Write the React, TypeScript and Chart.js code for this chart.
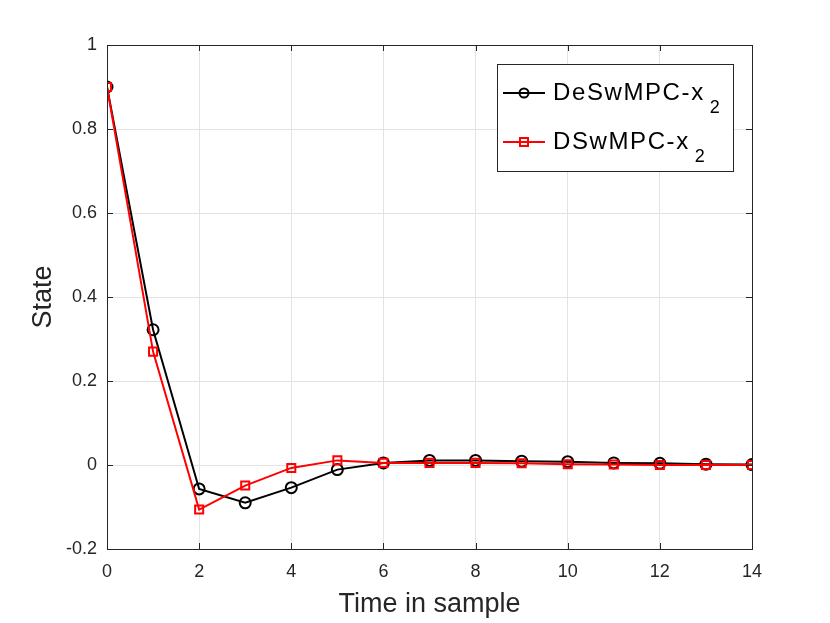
import { useEffect, useRef } from 'react';
import Chart from 'chart.js/auto';

// time steps and the two state trajectories (x2)
const steps = [0, 1, 2, 3, 4, 5, 6, 7, 8, 9, 10, 11, 12, 13, 14];
const deswmpc = [0.9, 0.322, -0.057, -0.09, -0.054, -0.011, 0.005, 0.011, 0.011, 0.009, 0.008, 0.005, 0.004, 0.002, 0.001];
const dswmpc = [0.9, 0.27, -0.106, -0.049, -0.007, 0.011, 0.005, 0.005, 0.005, 0.004, 0.002, 0.001, 0, 0, 0];
const seriesNames = ['DeSwMPC-x', 'DSwMPC-x'];
const seriesColors = ['#000000', '#ff0000'];

const FONT = '"Liberation Sans", Arial, Helvetica, sans-serif';
const AXIS = '#262626';

const boxPlugin = {
    id: 'matlabBox',
    afterDraw(chart: any) {
        const { ctx, chartArea } = chart;
        const { left, right, top, bottom } = chartArea;
        const xs = chart.scales.x;
        const ys = chart.scales.y;
        ctx.save();
        ctx.strokeStyle = AXIS;
        ctx.lineWidth = 1;
        // inward ticks
        ctx.beginPath();
        xs.ticks.forEach((t: any) => {
            const p = Math.round(xs.getPixelForValue(t.value)) + 0.5;
            ctx.moveTo(p, bottom); ctx.lineTo(p, bottom - 6);
            ctx.moveTo(p, top); ctx.lineTo(p, top + 6);
        });
        ys.ticks.forEach((t: any) => {
            const p = Math.round(ys.getPixelForValue(t.value)) + 0.5;
            ctx.moveTo(left, p); ctx.lineTo(left + 6, p);
            ctx.moveTo(right, p); ctx.lineTo(right - 6, p);
        });
        ctx.stroke();
        ctx.strokeRect(Math.round(left) + 0.5, Math.round(top) + 0.5, Math.round(right - left), Math.round(bottom - top));

        // legend
        const lx = 497, ly = 64, lw = 236, lh = 107;
        ctx.fillStyle = '#ffffff';
        ctx.fillRect(lx, ly, lw, lh);
        ctx.strokeRect(lx + 0.5, ly + 0.5, lw, lh);
        const rows = [93, 142];
        rows.forEach((ry, i) => {
            const c = seriesColors[i];
            ctx.strokeStyle = c;
            ctx.lineWidth = 2;
            ctx.beginPath();
            ctx.moveTo(503, ry); ctx.lineTo(545, ry);
            ctx.stroke();
            if (i === 0) {
                ctx.beginPath();
                ctx.arc(524, ry, 4.5, 0, Math.PI * 2);
                ctx.stroke();
            } else {
                ctx.strokeRect(520, ry - 4, 8, 8);
            }
            ctx.fillStyle = '#000000';
            ctx.font = `24px ${FONT}`;
            ctx.textBaseline = 'alphabetic';
            ctx.textAlign = 'left';
            (ctx as any).letterSpacing = '1.6px';
            const tx = 553;
            const by = ry + 7;
            ctx.fillText(seriesNames[i], tx, by);
            const w = ctx.measureText(seriesNames[i]).width;
            (ctx as any).letterSpacing = '0px';
            ctx.font = `18px ${FONT}`;
            ctx.fillText('2', tx + w + 5, by + 13);
        });
        ctx.restore();
    },
};

const App = () => {
    const chartRef = useRef<HTMLCanvasElement | null>(null);
    const chartInstance = useRef<Chart | null>(null);

    useEffect(() => {
        if (!chartRef.current) return;
        if (chartInstance.current) chartInstance.current.destroy();

        const mk = (vals: number[]) => steps.map((s, i) => ({ x: s, y: vals[i] }));

        chartInstance.current = new Chart(chartRef.current, {
            type: 'line',
            data: {
                datasets: [
                    {
                        label: seriesNames[0],
                        data: mk(deswmpc),
                        borderColor: seriesColors[0],
                        borderWidth: 2,
                        pointStyle: 'circle',
                        pointRadius: 5.5,
                        pointBorderWidth: 2,
                        pointBorderColor: seriesColors[0],
                        pointBackgroundColor: 'rgba(0,0,0,0)',
                        tension: 0,
                        order: 1,
                    },
                    {
                        label: seriesNames[1],
                        data: mk(dswmpc),
                        borderColor: seriesColors[1],
                        borderWidth: 2,
                        pointStyle: 'rect',
                        pointRadius: 5.7,
                        pointBorderWidth: 2,
                        pointBorderColor: seriesColors[1],
                        pointBackgroundColor: 'rgba(0,0,0,0)',
                        tension: 0,
                        order: 0,
                    },
                ],
            },
            options: {
                responsive: false,
                animation: false,
                devicePixelRatio: 1,
                layout: { padding: { top: 45, right: 78, left: 0, bottom: 0 } },
                plugins: { legend: { display: false }, tooltip: { enabled: false } },
                scales: {
                    x: {
                        type: 'linear',
                        min: 0,
                        max: 14,
                        ticks: { stepSize: 2, color: AXIS, font: { family: FONT, size: 18 }, padding: 12, maxRotation: 0 },
                        grid: { color: '#e3e3e3', drawTicks: false },
                        border: { display: true, color: AXIS },
                        title: { display: true, text: 'Time in sample', color: AXIS, font: { family: FONT, size: 27 }, padding: { top: 0, bottom: 2 } },
                        afterFit: (s: any) => { s.height = 74; },
                    },
                    y: {
                        type: 'linear',
                        min: -0.2,
                        max: 1,
                        ticks: {
                            stepSize: 0.2,
                            color: AXIS,
                            font: { family: FONT, size: 18 },
                            padding: 10,
                            callback: (v: any) => String(Math.round(Number(v) * 10) / 10),
                        },
                        grid: { color: '#e3e3e3', drawTicks: false },
                        border: { display: true, color: AXIS },
                        title: { display: true, text: 'State', color: AXIS, font: { family: FONT, size: 27 }, padding: { top: 27, bottom: 0 } },
                        afterFit: (s: any) => { s.width = 107; },
                    },
                },
            },
            plugins: [boxPlugin],
        });

        return () => {
            if (chartInstance.current) {
                chartInstance.current.destroy();
                chartInstance.current = null;
            }
        };
    }, []);

    return (
        <div style={{ position: 'absolute', left: 0, top: 0, width: 830, height: 623, background: '#fff' }}>
            <canvas ref={chartRef} width={830} height={623}></canvas>
        </div>
    );
};

export default App;
